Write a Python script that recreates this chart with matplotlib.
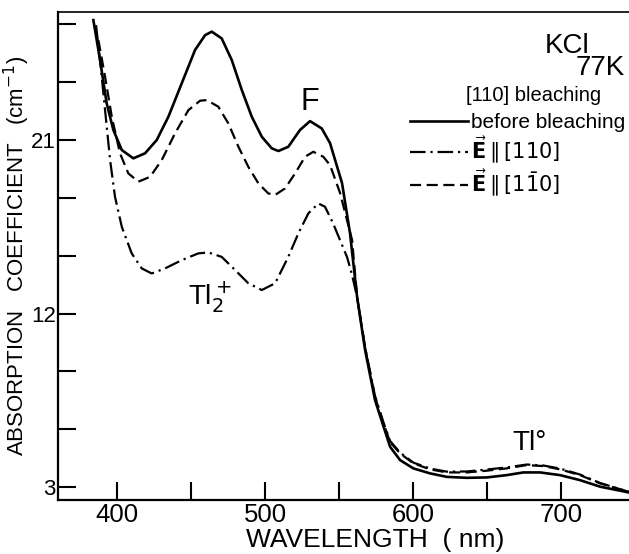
import matplotlib
matplotlib.use("Agg")
import matplotlib.pyplot as plt
from matplotlib.ticker import FixedLocator

plt.rcParams['font.family'] = ['Liberation Sans', 'DejaVu Sans']
plt.rcParams['mathtext.fontset'] = 'dejavusans'

# ---- data (wavelength nm, absorption coefficient cm^-1) ----
wl_before = [384.0, 388.5, 393.0, 397.5, 403.2, 411.0, 418.9, 426.8, 434.7, 443.7,
             452.7, 459.5, 464.0, 470.7, 477.5, 484.3, 491.0, 497.8, 504.5, 509.0,
             515.7, 523.6, 530.4, 538.3, 543.9, 552.0, 557.4, 562.2, 567.6, 574.3,
             579.7, 584.5, 591.2, 600.2, 611.5, 622.8, 636.3, 649.8, 663.3, 674.5,
             685.8, 699.3, 712.8, 726.4, 745.9]
ab_before = [27.22, 25.15, 22.90, 21.52, 20.48, 20.05, 20.31, 21.00, 22.21, 23.94,
             25.67, 26.44, 26.62, 26.27, 25.15, 23.59, 22.21, 21.17, 20.57, 20.43,
             20.65, 21.52, 21.98, 21.60, 20.84, 18.77, 16.17, 12.85, 10.11, 7.51,
             6.22, 5.09, 4.40, 3.97, 3.71, 3.53, 3.48, 3.50, 3.62, 3.76,
             3.76, 3.62, 3.36, 3.02, 2.72]

wl_perp = [387.4, 391.9, 396.6, 402.0, 407.6, 414.4, 422.3, 430.2, 439.2, 448.2,
           456.1, 460.6, 468.4, 475.2, 482.0, 488.7, 495.5, 502.2, 506.8, 513.5,
           520.3, 527.0, 532.6, 539.4, 543.9, 550.7, 558.8, 562.2, 567.6, 574.3,
           579.7, 584.5, 591.2, 600.2, 611.5, 622.8, 636.3, 649.8, 663.3, 676.8,
           688.0, 699.3, 712.8, 726.4, 745.9]
ab_perp = [26.18, 24.28, 22.14, 20.31, 19.27, 18.84, 19.09, 19.96, 21.35, 22.55,
           23.04, 23.07, 22.73, 21.86, 20.65, 19.61, 18.75, 18.23, 18.15, 18.49,
           19.27, 20.13, 20.39, 20.13, 19.70, 18.25, 15.81, 12.85, 10.21, 7.67,
           6.37, 5.33, 4.75, 4.23, 3.92, 3.76, 3.76, 3.85, 3.97, 4.14,
           4.09, 3.92, 3.62, 3.19, 2.76]

wl_par = [385.8, 389.2, 391.9, 395.3, 398.6, 403.2, 409.9, 416.7, 423.4, 432.4,
          443.7, 454.9, 461.7, 470.7, 479.7, 488.7, 497.8, 506.8, 515.7, 522.5,
          529.3, 536.0, 540.5, 545.9, 555.4, 558.8, 562.2, 567.6, 574.3, 579.7,
          584.5, 591.2, 600.2, 611.5, 622.8, 636.3, 649.8, 663.3, 676.8, 688.0,
          699.3, 712.8, 726.4, 745.9]
ab_par = [26.96, 24.63, 22.55, 19.96, 18.06, 16.50, 15.12, 14.34, 14.08, 14.34,
          14.77, 15.12, 15.17, 14.94, 14.26, 13.57, 13.22, 13.57, 14.94, 16.16,
          17.20, 17.71, 17.54, 16.69, 14.93, 14.00, 12.85, 10.26, 7.72, 6.42,
          5.39, 4.79, 4.27, 3.96, 3.80, 3.81, 3.91, 4.02, 4.17, 4.12,
          3.96, 3.65, 3.21, 2.75]

x_major = [400, 500, 600, 700]
x_minor = [450, 550, 650]
y_major = [3, 12, 21]
y_minor = [6, 9, 15, 18, 24, 27]

labels = ['before bleaching',
          r'$\vec{\mathbf{E}}\parallel[110]$',
          r'$\vec{\mathbf{E}}\parallel[1\bar{1}0]$']

fig = plt.figure(figsize=(6.29, 5.54), dpi=100)
ax = fig.add_axes([58/629, 1 - 500/554, 1 - 58/629, (500 - 12)/554])

l1, = ax.plot(wl_before, ab_before, color='black', lw=1.9, ls='-')
l2, = ax.plot(wl_par, ab_par, color='black', lw=1.6, ls=(0, (7, 2.2, 1, 2.2)))
l3, = ax.plot(wl_perp, ab_perp, color='black', lw=1.6, ls=(0, (5, 2.5)))

ax.set_xlim(360.1, 745.9)
ax.set_ylim(2.33, 27.64)

ax.xaxis.set_major_locator(FixedLocator(x_major))
ax.xaxis.set_minor_locator(FixedLocator(x_minor))
ax.yaxis.set_major_locator(FixedLocator(y_major))
ax.yaxis.set_minor_locator(FixedLocator(y_minor))
ax.tick_params(which='both', direction='in', length=13, width=1.5)
ax.tick_params(axis='x', which='major', labelsize=18.5, pad=2.5)
ax.tick_params(axis='y', which='major', labelsize=16, pad=1.5)

for s in ['left', 'bottom']:
    ax.spines[s].set_linewidth(1.6)
ax.spines['top'].set_linewidth(1.2)
ax.spines['right'].set_visible(False)

ax.set_xlabel('WAVELENGTH  ( nm)', fontsize=19)
ax.xaxis.set_label_coords((375 - 58) / 571, -0.057)
ax.set_ylabel(r'ABSORPTION   COEFFICIENT   (cm$^{-1}$)', fontsize=16)
ax.yaxis.set_label_coords(-0.046, 0.5)

ax.text(704.1, 25.51, 'KCl', fontsize=20, ha='center', va='baseline')
ax.text(726.4, 24.37, '77K', fontsize=20, ha='center', va='baseline')
ax.text(681.1, 23.02, '[110] bleaching', fontsize=14.5, ha='center', va='baseline')
ax.text(530.4, 22.55, 'F', fontsize=22, ha='center', va='baseline')
ax.text(448.0, 12.44, r'Tl$_2^+$', fontsize=20, ha='left', va='baseline')
ax.text(666.9, 4.92, 'Tl°', fontsize=20, ha='left', va='baseline')

leg = ax.legend([l1, l2, l3], labels, loc='upper left',
                bbox_to_anchor=((410 - 58) / 571, (500 - 113) / 488),
                frameon=False, fontsize=15, handlelength=2.8, handletextpad=0.12,
                labelspacing=0.12, borderpad=0, borderaxespad=0)

fig.savefig('out.png', dpi=100)
